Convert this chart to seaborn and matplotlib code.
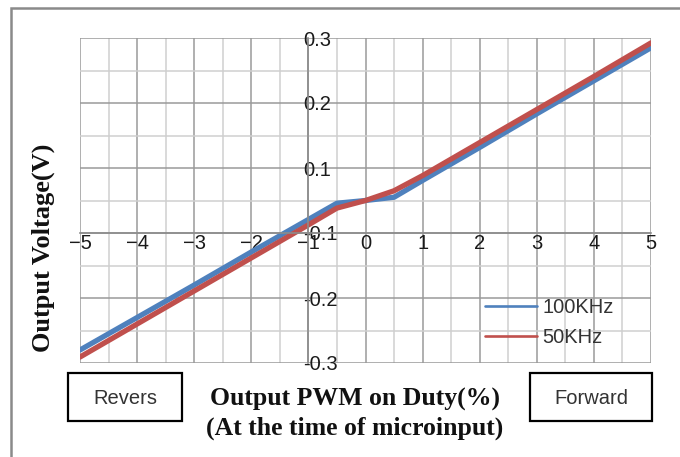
"""Output voltage vs PWM on-duty at micro input (100KHz / 50KHz)."""

import matplotlib
matplotlib.use("Agg")
import matplotlib.pyplot as plt
from matplotlib.patches import Rectangle
from matplotlib.ticker import FuncFormatter, MultipleLocator, FixedLocator
import seaborn as sns
import pandas as pd

# data
duty = [-5, -4, -3, -2, -1, -0.5, 0, 0.5, 1, 2, 3, 4, 5]
volt_100k = [-0.276, -0.216, -0.156, -0.095, -0.035, -0.005, 0.0,
             0.006, 0.037, 0.098, 0.160, 0.221, 0.282]
volt_50k = [-0.289, -0.228, -0.167, -0.106, -0.045, -0.014, 0.0,
            0.018, 0.046, 0.107, 0.168, 0.229, 0.291]
series_names = ["100KHz", "50KHz"]
series_colors = ["#4F81BD", "#C0504D"]
x_ticks = [-5, -4, -3, -2, -1, 0, 1, 2, 3, 4, 5]
y_ticks = [-0.3, -0.18, -0.06, 0.06, 0.18, 0.3]

df = pd.concat([
    pd.DataFrame({"duty": duty, "volt": volt_100k, "freq": series_names[0]}),
    pd.DataFrame({"duty": duty, "volt": volt_50k, "freq": series_names[1]}),
])

sns.set_theme(style="white")
plt.rcParams["font.family"] = ["Liberation Sans", "DejaVu Sans"]

fig = plt.figure(figsize=(6.8, 4.57), dpi=100)
ax = fig.add_axes([80 / 680, 1 - 363 / 457, 571 / 680, 325 / 457])

sns.lineplot(data=df, x="duty", y="volt", hue="freq",
             palette=dict(zip(series_names, series_colors)),
             linewidth=3.8, ax=ax, legend=False)

ax.set_xlim(-5, 5)
ax.set_ylim(-0.3, 0.3)

# axes cross like in the Excel original
for s in ["top", "right"]:
    ax.spines[s].set_visible(False)
ax.spines["left"].set_position(("data", -1))
ax.spines["bottom"].set_position(("data", -0.06))
ax.spines["left"].set_color("#8c8c8c")
ax.spines["bottom"].set_color("#8c8c8c")
ax.spines["left"].set_linewidth(1.2)
ax.spines["bottom"].set_linewidth(1.2)

ax.xaxis.set_major_locator(FixedLocator(x_ticks))
ax.xaxis.set_minor_locator(MultipleLocator(0.5))
ax.yaxis.set_major_locator(FixedLocator(y_ticks))
ax.yaxis.set_minor_locator(MultipleLocator(0.06))
ax.yaxis.set_major_formatter(FuncFormatter(lambda v, p: f"{v:.1f}"))

ax.grid(True, which="major", color="#9a9a9a", linewidth=1.1)
ax.grid(True, which="minor", color="#cfcfcf", linewidth=1.1)
ax.set_axisbelow(True)

ax.tick_params(axis="both", which="both", length=0, labelsize=14.5,
               labelcolor="#1a1a1a")
ax.tick_params(axis="x", pad=1)
ax.tick_params(axis="y", pad=4)
for lbl in ax.get_yticklabels():
    lbl.set_horizontalalignment("left")

ax.set_xlabel("Output PWM on Duty(%)\n(At the time of microinput)",
              fontfamily="Liberation Serif", fontweight="bold", fontsize=18.5,
              color="#111111", linespacing=1.32)
ax.xaxis.set_label_coords((355 - 80) / 571, (363 - 388) / 325)
ax.set_ylabel("Output Voltage(V)", fontfamily="Liberation Serif",
              fontweight="bold", fontsize=19, color="#111111")
ax.yaxis.set_label_coords((43 - 80) / 571, (363 - 248) / 325)
ax.yaxis.label.set_verticalalignment("center")

handles = [plt.Line2D([], [], color=c, linewidth=1.9) for c in series_colors]
ax.legend(handles, series_names, loc="upper left",
          bbox_to_anchor=((485 - 80) / 571, (363 - 298) / 325),
          frameon=False, fontsize=14.5, handlelength=2.6,
          handletextpad=0.25, labelspacing=0.55, borderpad=0,
          borderaxespad=0, labelcolor="#333333")

# Revers / Forward boxes under the plot
for (x0, x1, txt) in [(68, 182, "Revers"), (530, 652, "Forward")]:
    fig.add_artist(Rectangle((x0 / 680, 1 - 421 / 457), (x1 - x0) / 680,
                             48 / 457, transform=fig.transFigure,
                             fill=False, edgecolor="black", linewidth=1.6))
    fig.text((x0 + x1) / 2 / 680, 1 - 398 / 457, txt, ha="center",
             va="center", fontsize=14.5, color="#333333")

# outer chart frame (left and top edges visible)
fig.add_artist(Rectangle((11 / 680, -0.1), 1.2, 1 - 8 / 457 + 0.1,
                         transform=fig.transFigure, fill=False,
                         edgecolor="#8a8a8a", linewidth=1.8))

fig.savefig("out.png", dpi=100)
